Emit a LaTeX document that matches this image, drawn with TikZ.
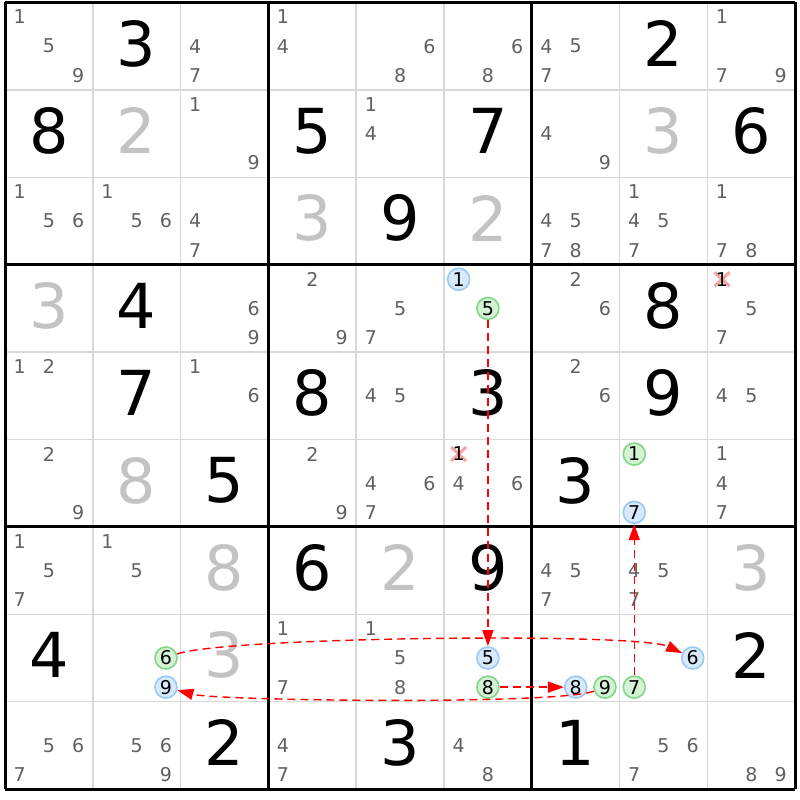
\documentclass[tikz,border=0pt]{standalone}
\usepackage{fontspec}
\setmainfont{DejaVu Sans}
\usetikzlibrary{arrows.meta}
\definecolor{candgray}{HTML}{606060}
\definecolor{solvgray}{HTML}{C3C3C3}
\definecolor{gridgray}{HTML}{D8D8D8}
\definecolor{blueline}{HTML}{99C9F2}
\definecolor{bluefill}{HTML}{D6EAFC}
\definecolor{greenline}{HTML}{80D68A}
\definecolor{greenfill}{HTML}{D4F2D4}
\definecolor{xred}{HTML}{F5A3A3}
\begin{document}
\begin{tikzpicture}[x=1pt,y=1pt,
  given/.style={font=\fontsize{62}{62}\selectfont, inner sep=0pt, text=black},
  solved/.style={given, text=solvgray},
  cand/.style={font=\fontsize{19}{19}\selectfont, inner sep=0pt, text=candgray},
  onblue/.style={cand, text=black, circle, draw=blueline, fill=bluefill, line width=1.6pt, minimum size=22pt},
  ongreen/.style={onblue, draw=greenline, fill=greenfill},
  xline/.style={xred, line width=3pt},
  link/.style={red, line width=1.4pt, dash pattern=on 8pt off 5pt, -{Triangle[length=16pt,width=11pt]}}]

\useasboundingbox (0,0) rectangle (800,-800);

\newcommand\CW{87.8}
\newcommand\CH{87.4}

% position of candidate #3 in cell (row #1, col #2)
\newcommand\candxy[3]{%
  \pgfmathsetmacro\cx{5+#2*\CW+(2*mod(#3-1,3)+1)*\CW/6}%
  \pgfmathsetmacro\cy{-(2.5+#1*\CH+(2*div(#3-1,3)+1)*\CH/6)}}
\newcommand\cands[3]{\foreach \k in {#3}{\candxy{#1}{#2}{\k}\node[cand] (n#1#2\k) at (\cx,\cy) {\k};}}
\newcommand\given[3]{\node[given] (n#1#2) at ({5+(#2+0.5)*\CW},{-(2.5+(#1+0.47)*\CH)}) {#3};}
\newcommand\solved[3]{\node[solved] (n#1#2) at ({5+(#2+0.5)*\CW},{-(2.5+(#1+0.47)*\CH)}) {#3};}
\newcommand\pick[5]{\candxy{#2}{#3}{#4}\node[#1] (#5) at (\cx,\cy) {#4};}
\newcommand\nix[3]{\candxy{#1}{#2}{#3}%
  \draw[xline] (\cx-7.5,\cy+7) -- (\cx+7.5,\cy-7) (\cx-7.5,\cy-7) -- (\cx+7.5,\cy+7);
  \node[cand,text=black] (x#1#2) at (\cx,\cy) {#3};}

% grid
\foreach \i in {0,...,9} {
  \draw[gridgray, line width=1.5pt] ({5+\i*\CW},-2.5) -- ({5+\i*\CW},-789.1);
  \draw[gridgray, line width=1.5pt] (5,{-(2.5+\i*\CH)}) -- (795.2,{-(2.5+\i*\CH)});
}
\foreach \i in {0,3,6,9} {
  \draw[black, line width=3pt] ({5+\i*\CW},-2.5) -- ({5+\i*\CW},-789.1);
  \draw[black, line width=3pt] (5,{-(2.5+\i*\CH)}) -- (795.2,{-(2.5+\i*\CH)});
}

% row 0
\cands{0}{0}{1,5,9}
\given{0}{1}{3}
\cands{0}{2}{4,7}
\cands{0}{3}{1,4}
\cands{0}{4}{6,8}
\cands{0}{5}{6,8}
\cands{0}{6}{4,5,7}
\given{0}{7}{2}
\cands{0}{8}{1,7,9}
% row 1
\given{1}{0}{8}
\solved{1}{1}{2}
\cands{1}{2}{1,9}
\given{1}{3}{5}
\cands{1}{4}{1,4}
\given{1}{5}{7}
\cands{1}{6}{4,9}
\solved{1}{7}{3}
\given{1}{8}{6}
% row 2
\cands{2}{0}{1,5,6}
\cands{2}{1}{1,5,6}
\cands{2}{2}{4,7}
\solved{2}{3}{3}
\given{2}{4}{9}
\solved{2}{5}{2}
\cands{2}{6}{4,5,7,8}
\cands{2}{7}{1,4,5,7}
\cands{2}{8}{1,7,8}
% row 3
\solved{3}{0}{3}
\given{3}{1}{4}
\cands{3}{2}{6,9}
\cands{3}{3}{2,9}
\cands{3}{4}{5,7}
\pick{onblue}{3}{5}{1}{b1}
\pick{ongreen}{3}{5}{5}{g5}
\cands{3}{6}{2,6}
\given{3}{7}{8}
\nix{3}{8}{1}
\cands{3}{8}{5,7}
% row 4
\cands{4}{0}{1,2}
\given{4}{1}{7}
\cands{4}{2}{1,6}
\given{4}{3}{8}
\cands{4}{4}{4,5}
\given{4}{5}{3}
\cands{4}{6}{2,6}
\given{4}{7}{9}
\cands{4}{8}{4,5}
% row 5
\cands{5}{0}{2,9}
\solved{5}{1}{8}
\given{5}{2}{5}
\cands{5}{3}{2,9}
\cands{5}{4}{4,6,7}
\nix{5}{5}{1}
\cands{5}{5}{4,6}
\given{5}{6}{3}
\pick{ongreen}{5}{7}{1}{g1}
\pick{onblue}{5}{7}{7}{b7}
\cands{5}{8}{1,4,7}
% row 6
\cands{6}{0}{1,5,7}
\cands{6}{1}{1,5}
\solved{6}{2}{8}
\given{6}{3}{6}
\solved{6}{4}{2}
\given{6}{5}{9}
\cands{6}{6}{4,5,7}
\cands{6}{7}{4,5,7}
\solved{6}{8}{3}
% row 7
\given{7}{0}{4}
\pick{ongreen}{7}{1}{6}{g6}
\pick{onblue}{7}{1}{9}{b9}
\solved{7}{2}{3}
\cands{7}{3}{1,7}
\cands{7}{4}{1,5,8}
\pick{onblue}{7}{5}{5}{b5}
\pick{ongreen}{7}{5}{8}{g8}
\pick{onblue}{7}{6}{8}{b8}
\pick{ongreen}{7}{6}{9}{g9}
\pick{onblue}{7}{7}{6}{b6}
\pick{ongreen}{7}{7}{7}{g7}
\given{7}{8}{2}
% row 8
\cands{8}{0}{5,6,7}
\cands{8}{1}{5,6,9}
\given{8}{2}{2}
\cands{8}{3}{4,7}
\given{8}{4}{3}
\cands{8}{5}{4,8}
\given{8}{6}{1}
\cands{8}{7}{5,6,7}
\cands{8}{8}{8,9}

% chain
\draw[link] (g5) -- (b5);
\draw[link] (g8) -- (b8);
\draw[link] (g7) -- (b7);
\draw[link] (g6) to[out=20,in=155,looseness=0.25] (b6);
\draw[link] (g9) to[out=200,in=-15,looseness=0.25] (b9);

\end{tikzpicture}
\end{document}
